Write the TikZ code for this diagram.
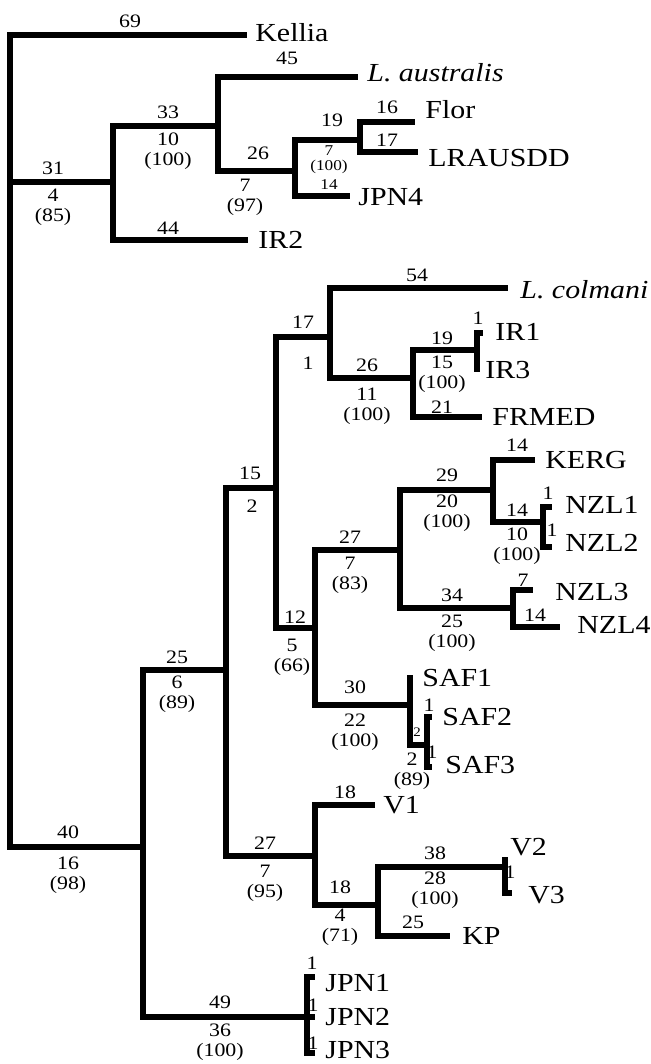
\documentclass[tikz,border=0pt]{standalone}
\usepackage{fontspec}
\setmainfont[FakeStretch=1.15]{Liberation Serif}
\usetikzlibrary{positioning}
\tikzset{
  branch/.style  = {line width=2.6pt},
  %% Label presets
  taxon/.style   = {anchor=west, inner sep=0pt, font=\fontsize{13}{15}\selectfont},
  spname/.style  = {taxon, font=\fontsize{13}{15}\selectfont\itshape},
  blen/.style    = {inner sep=0pt, align=center, font=\fontsize{9.5}{10}\selectfont},
  blensm/.style  = {inner sep=0pt, align=center, font=\fontsize{7.5}{7.5}\selectfont},
  blentiny/.style= {inner sep=0pt, font=\fontsize{6.5}{6.5}\selectfont},
}

\begin{document}
\begin{tikzpicture}[x=0.5pt, y=-0.5pt]

\useasboundingbox (0,0) rectangle (651,1064);

%% ---- Internal nodes and tips ----
\coordinate (root)     at (10, 440);
\coordinate (kellia)   at (247, 35);
\coordinate (n31)      at (113, 182);
\coordinate (n33)      at (218, 126);
\coordinate (austr)    at (358, 77);
\coordinate (n26)      at (295, 171);
\coordinate (n19)      at (360, 140);
\coordinate (flor)     at (415, 122);
\coordinate (lrausdd)  at (418, 152);
\coordinate (jpn4)     at (350, 196);
\coordinate (ir2)      at (248, 240);

\coordinate (n40)      at (143, 847);
\coordinate (n25)      at (226, 670);
\coordinate (n15)      at (276, 488);
\coordinate (n17)      at (330, 337);
\coordinate (colm)     at (508, 288);
\coordinate (n26b)     at (413, 378);
\coordinate (n19b)     at (477, 350);
\coordinate (ir1)      at (483, 333);
\coordinate (ir3)      at (477, 372);
\coordinate (frmed)    at (482, 417);

\coordinate (n12)      at (315, 628);
\coordinate (n27a)     at (400, 550);
\coordinate (n29)      at (493, 490);
\coordinate (kerg)     at (535, 460);
\coordinate (n14)      at (543, 522);
\coordinate (nzl1)     at (552, 507);
\coordinate (nzl2)     at (552, 547);
\coordinate (n34)      at (513, 608);
\coordinate (nzl3)     at (533, 590);
\coordinate (nzl4)     at (560, 627);
\coordinate (n30)      at (410, 705);
\coordinate (saf1)     at (410, 675);
\coordinate (nsaf)     at (427, 745);
\coordinate (saf2)     at (432, 717);
\coordinate (saf3)     at (432, 767);

\coordinate (n27b)     at (315, 856);
\coordinate (v1)       at (375, 805);
\coordinate (n18)      at (378, 905);
\coordinate (n38)      at (505, 867);
\coordinate (v2)       at (505, 857);
\coordinate (v3)       at (512, 893);
\coordinate (kp)       at (450, 936);

\coordinate (n49)      at (307, 1017);
\coordinate (jpn1)     at (315, 977);
\coordinate (jpn2)     at (315, 1017);
\coordinate (jpn3)     at (315, 1053);

%% ---- Branches ----
\draw[branch] (root) |- (kellia);
\draw[branch] (root) |- (n31);
\draw[branch] (root) |- (n40);

\draw[branch] (n31) |- (n33);
\draw[branch] (n31) |- (ir2);
\draw[branch] (n33) |- (austr);
\draw[branch] (n33) |- (n26);
\draw[branch] (n26) |- (n19);
\draw[branch] (n26) |- (jpn4);
\draw[branch] (n19) |- (flor);
\draw[branch] (n19) |- (lrausdd);

\draw[branch] (n40) |- (n25);
\draw[branch] (n40) |- (n49);
\draw[branch] (n25) |- (n15);
\draw[branch] (n25) |- (n27b);

\draw[branch] (n15) |- (n17);
\draw[branch] (n15) |- (n12);
\draw[branch] (n17) |- (colm);
\draw[branch] (n17) |- (n26b);
\draw[branch] (n26b) |- (n19b);
\draw[branch] (n26b) |- (frmed);
\draw[branch] (n19b) |- (ir1);
\draw[branch] (n19b) -- (ir3);

\draw[branch] (n12) |- (n27a);
\draw[branch] (n12) |- (n30);
\draw[branch] (n27a) |- (n29);
\draw[branch] (n27a) |- (n34);
\draw[branch] (n29) |- (kerg);
\draw[branch] (n29) |- (n14);
\draw[branch] (n14) |- (nzl1);
\draw[branch] (n14) |- (nzl2);
\draw[branch] (n34) |- (nzl3);
\draw[branch] (n34) |- (nzl4);
\draw[branch] (n30) -- (saf1);
\draw[branch] (n30) |- (nsaf);
\draw[branch] (nsaf) |- (saf2);
\draw[branch] (nsaf) |- (saf3);

\draw[branch] (n27b) |- (v1);
\draw[branch] (n27b) |- (n18);
\draw[branch] (n18) |- (n38);
\draw[branch] (n18) |- (kp);
\draw[branch] (n38) -- (v2);
\draw[branch] (n38) |- (v3);

\draw[branch] (n49) |- (jpn1);
\draw[branch] (n49) -- (jpn2);
\draw[branch] (n49) |- (jpn3);

%% ---- Taxon labels ----
\node[taxon]  (lkellia)  at (255, 33)   {Kellia};
\node[spname] (laustr)   at (367, 73)   {L. australis};
\node[taxon]  (lflor)    at (425, 110)  {Flor};
\node[taxon]  (llraus)   at (428, 158)  {LRAUSDD};
\node[taxon]  (ljpn4)    at (358, 197)  {JPN4};
\node[taxon]  (lir2)     at (258, 240)  {IR2};
\node[spname] (lcolm)    at (520, 290)  {L. colmani};
\node[taxon]  (lir1)     at (495, 332)  {IR1};
\node[taxon]  (lir3)     at (485, 370)  {IR3};
\node[taxon]  (lfrmed)   at (492, 417)  {FRMED};
\node[taxon]  (lkerg)    at (545, 460)  {KERG};
\node[taxon]  (lnzl1)    at (565, 505)  {NZL1};
\node[taxon]  (lnzl2)    at (565, 543)  {NZL2};
\node[taxon]  (lnzl3)    at (555, 592)  {NZL3};
\node[taxon]  (lnzl4)    at (577, 625)  {NZL4};
\node[taxon]  (lsaf1)    at (422, 678)  {SAF1};
\node[taxon]  (lsaf2)    at (442, 717)  {SAF2};
\node[taxon]  (lsaf3)    at (445, 765)  {SAF3};
\node[taxon]  (lv1)      at (383, 805)  {V1};
\node[taxon]  (lv2)      at (510, 847)  {V2};
\node[taxon]  (lv3)      at (528, 895)  {V3};
\node[taxon]  (lkp)      at (462, 936)  {KP};
\node[taxon]  (ljpn1)    at (325, 983)  {JPN1};
\node[taxon]  (ljpn2)    at (325, 1017) {JPN2};
\node[taxon]  (ljpn3)    at (325, 1050) {JPN3};

%% ---- Branch lengths (above) / support (below) ----
\node[blen] (b69)   at (130, 21)   {69};
\node[blen] (b31)   at (53, 168)   {31};
\node[blen] (s31)   at (53, 207)   {4\\(85)};
\node[blen] (b33)   at (168, 112)  {33};
\node[blen] (s33)   at (168, 151)  {10\\(100)};
\node[blen] (b44)   at (168, 228)  {44};
\node[blen] (b45)   at (287, 58)   {45};
\node[blen] (b26)   at (258, 153)  {26};
\node[blen] (s26)   at (245, 197)  {7\\(97)};
\node[blen] (b19)   at (332, 120)  {19};
\node[blensm] (s19) at (329, 160)  {7\\(100)};
\node[blensm] (b14a) at (329, 185) {14};
\node[blen] (b16)   at (387, 107)  {16};
\node[blen] (b17a)  at (387, 140)  {17};

\node[blen] (b54)   at (417, 275)  {54};
\node[blen] (b17)   at (303, 322)  {17};
\node[blen] (s17)   at (308, 363)  {1};
\node[blen] (b26b)  at (367, 365)  {26};
\node[blen] (s26b)  at (367, 406)  {11\\(100)};
\node[blen] (b19b)  at (442, 338)  {19};
\node[blen] (s19b)  at (442, 374)  {15\\(100)};
\node[blen] (b21)   at (442, 407)  {21};
\node[blen] (b1ir)  at (478, 318)  {1};

\node[blen] (b15)   at (250, 473)  {15};
\node[blen] (s15)   at (252, 506)  {2};
\node[blen] (b12)   at (295, 617)  {12};
\node[blen] (s12)   at (292, 657)  {5\\(66)};
\node[blen] (b27a)  at (350, 537)  {27};
\node[blen] (s27a)  at (350, 575)  {7\\(83)};
\node[blen] (b29)   at (447, 475)  {29};
\node[blen] (s29)   at (447, 513)  {20\\(100)};
\node[blen] (b14k)  at (517, 445)  {14};
\node[blen] (b14n)  at (517, 510)  {14};
\node[blen] (s14n)  at (517, 546)  {10\\(100)};
\node[blen] (b1n1)  at (548, 493)  {1};
\node[blen] (b1n2)  at (552, 530)  {1};
\node[blen] (b34)   at (452, 595)  {34};
\node[blen] (s34)   at (452, 633)  {25\\(100)};
\node[blen] (b7n3)  at (523, 580)  {7};
\node[blen] (b14n4) at (535, 615)  {14};

\node[blen] (b30)   at (355, 687)  {30};
\node[blen] (s30)   at (355, 732)  {22\\(100)};
\node[blen] (b1s2)  at (429, 705)  {1};
\node[blen] (b1s3)  at (432, 752)  {1};
\node[blentiny] (b2s) at (417, 732) {2};
\node[blen] (s2s)   at (412, 771)  {2\\(89)};

\node[blen] (b25)   at (177, 657)  {25};
\node[blen] (s25)   at (177, 694)  {6\\(89)};
\node[blen] (b40)   at (68, 832)   {40};
\node[blen] (s40)   at (68, 875)   {16\\(98)};
\node[blen] (b27b)  at (265, 843)  {27};
\node[blen] (s27b)  at (265, 883)  {7\\(95)};
\node[blen] (b18v)  at (345, 792)  {18};
\node[blen] (b18)   at (340, 887)  {18};
\node[blen] (s18)   at (340, 927)  {4\\(71)};
\node[blen] (b38)   at (435, 853)  {38};
\node[blen] (s38)   at (435, 890)  {28\\(100)};
\node[blen] (b1v3)  at (510, 872)  {1};
\node[blen] (b25kp) at (413, 922)  {25};

\node[blen] (b49)   at (220, 1002) {49};
\node[blen] (s49)   at (220, 1042) {36\\(100)};
\node[blen] (b1j1)  at (312, 963)  {1};
\node[blen] (b1j2)  at (313, 1005) {1};
\node[blen] (b1j3)  at (313, 1043) {1};

\end{tikzpicture}
\end{document}
